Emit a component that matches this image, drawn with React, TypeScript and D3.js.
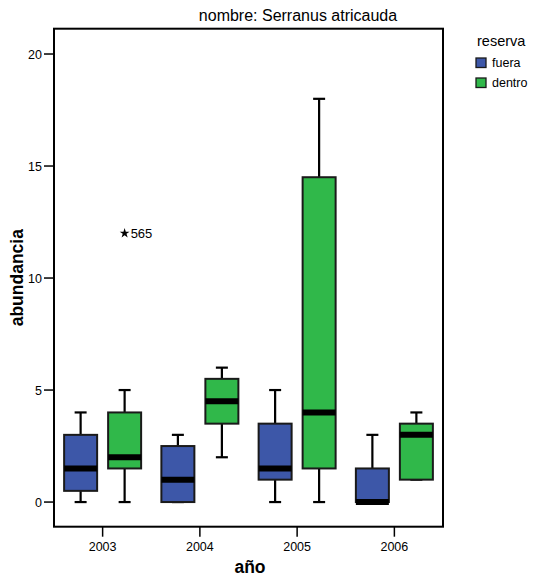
import React from "react";
import * as d3 from "d3";

const years = ["2003", "2004", "2005", "2006"];
const groups = ["fuera", "dentro"];
const groupColors = ["#3d57a8", "#30b84a"];

// [low whisker, Q1, median, Q3, high whisker] per year, per group
const fueraStats = [
  [0, 0.5, 1.5, 3, 4],
  [0, 0, 1, 2.5, 3],
  [0, 1, 1.5, 3.5, 5],
  [0, 0, 0, 1.5, 3],
];
const dentroStats = [
  [0, 1.5, 2, 4, 5],
  [2, 3.5, 4.5, 5.5, 6],
  [0, 1.5, 4, 14.5, 18],
  [1, 1, 3, 3.5, 4],
];
const outliers = [{ year: "2003", group: "dentro", value: 12, label: "565" }];
const yTicks = [0, 5, 10, 15, 20];

const font = "Arial, 'Liberation Sans', sans-serif";

export default function App() {
  const left = 54, right = 443, top = 28.7, bottom = 526.7;
  const x = d3.scaleBand<string>().domain(years).range([left, right]);
  const y = d3.scaleLinear().domain([-1.1, 21.13]).range([bottom, top]);
  const offset = d3.scalePoint<string>().domain(groups).range([-22, 22]);
  const boxW = 33;
  const capW = 12;

  const series = [fueraStats, dentroStats];

  return (
    <svg width={544} height={576} style={{ position: "absolute", left: 0, top: 0 }}>
      <rect width={544} height={576} fill="#fff" />
      <text x={298} y={21} textAnchor="middle" fontFamily={font} fontSize={16}>
        nombre: Serranus atricauda
      </text>
      {/* boxes */}
      {series.map((stats, gi) =>
        stats.map((s, yi) => {
          const cx = (x(years[yi]) as number) + x.bandwidth() / 2 + (offset(groups[gi]) as number);
          const [lo, q1, med, q3, hi] = s;
          return (
            <g key={`${gi}-${yi}`}>
              <line x1={cx} x2={cx} y1={y(hi)} y2={y(q3)} stroke="#000" strokeWidth={2.2} />
              <line x1={cx} x2={cx} y1={y(q1)} y2={y(lo)} stroke="#000" strokeWidth={2.2} />
              <line x1={cx - capW / 2} x2={cx + capW / 2} y1={y(hi)} y2={y(hi)} stroke="#000" strokeWidth={2.2} />
              <line x1={cx - capW / 2} x2={cx + capW / 2} y1={y(lo)} y2={y(lo)} stroke="#000" strokeWidth={2.2} />
              <rect
                x={cx - boxW / 2}
                y={y(q3)}
                width={boxW}
                height={Math.max(y(q1) - y(q3), 0)}
                fill={groupColors[gi]}
                stroke="#1a1a1a"
                strokeWidth={2}
              />
              <line x1={cx - boxW / 2} x2={cx + boxW / 2} y1={y(med)} y2={y(med)} stroke="#000" strokeWidth={6} />
            </g>
          );
        })
      )}
      {/* outliers */}
      {outliers.map((o, i) => {
        const cx = (x(o.year) as number) + x.bandwidth() / 2 + (offset(o.group) as number);
        const star = d3.symbol(d3.symbolStar, 30)() as string;
        return (
          <g key={i}>
            <path d={star} transform={`translate(${cx},${y(o.value)})`} fill="#000" />
            <text x={cx + 6} y={y(o.value) + 5} fontFamily={font} fontSize={13}>
              {o.label}
            </text>
          </g>
        );
      })}
      {/* frame */}
      <rect x={left} y={top} width={right - left} height={bottom - top} fill="none" stroke="#000" strokeWidth={2} />
      {/* y axis */}
      {yTicks.map((t) => (
        <g key={t}>
          <line x1={left - 10} x2={left} y1={y(t)} y2={y(t)} stroke="#000" strokeWidth={1.5} />
          <text x={left - 12} y={y(t) + 4.5} textAnchor="end" fontFamily={font} fontSize={12.5}>
            {t}
          </text>
        </g>
      ))}
      {/* x axis */}
      {years.map((yr) => {
        const cx = (x(yr) as number) + x.bandwidth() / 2;
        return (
          <g key={yr}>
            <line x1={cx} x2={cx} y1={bottom} y2={bottom + 10} stroke="#000" strokeWidth={1.5} />
            <text x={cx} y={bottom + 24} textAnchor="middle" fontFamily={font} fontSize={12.5}>
              {yr}
            </text>
          </g>
        );
      })}
      <text x={250} y={573} textAnchor="middle" fontFamily={font} fontSize={17.5} fontWeight="bold">
        año
      </text>
      <text
        transform={`translate(23,${(top + bottom) / 2}) rotate(-90)`}
        textAnchor="middle"
        fontFamily={font}
        fontSize={17.5}
        fontWeight="bold"
      >
        abundancia
      </text>
      {/* legend */}
      <text x={477} y={46} fontFamily={font} fontSize={14.5}>
        reserva
      </text>
      {groups.map((g, i) => (
        <g key={g}>
          <rect x={476} y={58 + i * 20} width={10} height={9.5} fill={groupColors[i]} stroke="#1a1a1a" strokeWidth={1.3} />
          <text x={492} y={67 + i * 20} fontFamily={font} fontSize={12.5}>
            {g}
          </text>
        </g>
      ))}
    </svg>
  );
}
